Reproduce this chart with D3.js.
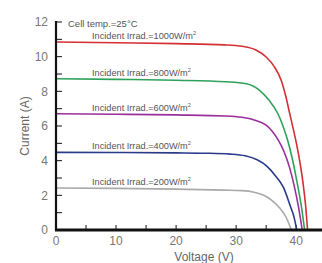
<!doctype html>
<html>
<head>
<meta charset="UTF-8">
<title>I-V curves</title>
<script src="https://d3js.org/d3.v7.min.js"></script>
<style>
  body { margin: 0; background: #fff; }
  text { font-family: "Liberation Sans Narrow", "Liberation Sans", sans-serif; }
</style>
</head>
<body>
<script>
// readings
var irradLabels = ["Incident Irrad.=1000W/m", "Incident Irrad.=800W/m", "Incident Irrad.=600W/m",
                   "Incident Irrad.=400W/m", "Incident Irrad.=200W/m"];
var colors = ["#d42f34", "#2ea25a", "#9a2f9c", "#2a3a8a", "#a9a9a9"];

var v1000 = [0, 10, 20, 28, 31, 33.3, 35, 36.4, 37.5, 38.3, 38.9, 39.5, 40.1, 40.7, 41.2, 41.6, 41.9];
var i1000 = [10.85, 10.8, 10.75, 10.68, 10.6, 10.38, 9.98, 9.4, 8.64, 7.67, 6.75, 5.85, 4.9, 3.75, 2.55, 1.3, 0];

var v800 = [0, 10, 20, 28.3, 31.7, 33.9, 35.5, 36.9, 37.8, 38.6, 39.3, 39.9, 40.5, 41.0, 41.4];
var i800 = [8.73, 8.69, 8.64, 8.55, 8.44, 8.06, 7.48, 6.75, 6.0, 5.15, 4.2, 3.2, 2.1, 1.05, 0];

var v600 = [0, 10, 20, 28.3, 31, 33, 35, 36, 37, 38, 38.9, 39.7, 40.4, 41.0];
var i600 = [6.71, 6.68, 6.64, 6.58, 6.5, 6.35, 6.05, 5.7, 5.2, 4.5, 3.6, 2.5, 1.3, 0];

var v400 = [0, 10, 20, 25, 29, 31.5, 33.5, 35.1, 36.5, 37.9, 39, 39.6, 40.1];
var i400 = [4.48, 4.47, 4.45, 4.43, 4.38, 4.28, 4.05, 3.69, 3.15, 2.44, 1.4, 0.8, 0];

var v200 = [0, 10, 20, 28, 31, 33, 34.6, 36, 37.3, 38.3, 39.2];
var i200 = [2.42, 2.4, 2.36, 2.3, 2.27, 2.18, 2.0, 1.7, 1.25, 0.75, 0];

var volts = [v1000, v800, v600, v400, v200];
var amps = [i1000, i800, i600, i400, i200];

var xTicks = [0, 10, 20, 30, 40];
var yTicks = [0, 2, 4, 6, 8, 10, 12];

var w = 322, h = 263;
var m = {left: 56, right: 322, top: 22, bottom: 230};

var svg = d3.select("body").append("svg").attr("width", w).attr("height", h);

var x = d3.scaleLinear().domain([0, 44.3]).range([m.left, m.right]);
var y = d3.scaleLinear().domain([0, 12]).range([m.bottom, m.top]);

// small ticks, pointing inside
svg.append("g").selectAll("line").data(d3.range(0, 13))
  .enter().append("line")
  .attr("x1", m.left).attr("x2", m.left + 6)
  .attr("y1", function(d){ return y(d); }).attr("y2", function(d){ return y(d); })
  .attr("stroke", "#111").attr("stroke-width", 1);

svg.append("g").selectAll("line").data(d3.range(5, 44, 5))
  .enter().append("line")
  .attr("x1", function(d){ return x(d); }).attr("x2", function(d){ return x(d); })
  .attr("y1", m.bottom).attr("y2", m.bottom - 5)
  .attr("stroke", "#111").attr("stroke-width", 1);

// curves
var line = d3.line().curve(d3.curveMonotoneX)
  .x(function(d){ return x(d[0]); })
  .y(function(d){ return y(d[1]); });

svg.append("g").selectAll("path").data(volts)
  .enter().append("path")
  .attr("d", function(v, k){ return line(v.map(function(vv, j){ return [vv, amps[k][j]]; })); })
  .attr("fill", "none")
  .attr("stroke", function(d, k){ return colors[k]; })
  .attr("stroke-width", 1.6);

// axis lines
svg.append("line").attr("x1", m.left).attr("x2", m.left).attr("y1", m.top - 1).attr("y2", m.bottom + 1)
  .attr("stroke", "#111").attr("stroke-width", 2.2);
svg.append("line").attr("x1", m.left - 1).attr("x2", m.right).attr("y1", m.bottom).attr("y2", m.bottom)
  .attr("stroke", "#111").attr("stroke-width", 2.8);

// tick labels
svg.append("g").selectAll("text").data(yTicks)
  .enter().append("text")
  .attr("x", m.left - 8).attr("y", function(d){ return y(d); })
  .attr("dy", "0.36em").attr("text-anchor", "end")
  .attr("font-size", 12).attr("fill", "#777")
  .text(function(d){ return d; });

svg.append("g").selectAll("text").data(xTicks)
  .enter().append("text")
  .attr("x", function(d){ return x(d); }).attr("y", m.bottom + 15)
  .attr("text-anchor", "middle")
  .attr("font-size", 12).attr("fill", "#777")
  .text(function(d){ return d; });

// curve labels
var lab = svg.append("g").selectAll("text").data(irradLabels)
  .enter().append("text")
  .attr("x", x(6)).attr("y", function(d, k){ return y(amps[k][0]) - 3; })
  .attr("font-size", 9.2).attr("fill", "#555");
lab.append("tspan").text(function(d){ return d; });
lab.append("tspan").attr("font-size", 5.5).attr("dy", -4).text("2");

svg.append("text").attr("x", 68).attr("y", 27)
  .attr("font-size", 9.5).attr("fill", "#555").text("Cell temp.=25°C");

// axis titles
svg.append("text").attr("x", 204).attr("y", 261).attr("text-anchor", "middle")
  .attr("font-size", 12).attr("fill", "#666").text("Voltage (V)");
svg.append("text").attr("transform", "translate(29,126) rotate(-90)").attr("text-anchor", "middle")
  .attr("font-size", 12).attr("fill", "#666").text("Current (A)");
</script>
</body>
</html>
